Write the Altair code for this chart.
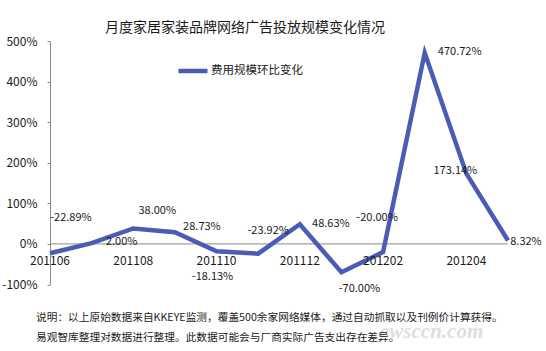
import altair as alt
import pandas as pd

months = ["201106", "201107", "201108", "201109", "201110", "201111",
          "201112", "201201", "201202", "201203", "201204", "201205"]
values = [-22.89, 2.00, 38.00, 28.73, -18.13, -23.92, 48.63, -70.00, -20.00,
          470.72, 173.14, 8.32]
tick_labels = ["201106", "201108", "201110", "201112", "201202", "201204"]
y_ticks = [-100, 0, 100, 200, 300, 400, 500]
series_name = "费用规模环比变化"
title_text = "月度家居家装品牌网络广告投放规模变化情况"
note_lines = [
    "说明：以上原始数据来自KKEYE监测，覆盖500余家网络媒体，通过自动抓取以及刊例价计算获得。",
    "易观智库整理对数据进行整理。此数据可能会与厂商实际广告支出存在差异。",
]
watermark_text = "ewsccn.com"
# label placement offsets (pixels) relative to each point
label_dx = [21, 30, 24, 27, -4, 10, 31, 18, -6, 35, -11, 18]
label_dy = [-35, -1, -17, -5, 26, -23, 0, 17, -34, -1, -3, 1]

FONT = "Noto Sans CJK SC"
LINE_COLOR = "#4a5cb4"
AXIS_COLOR = "#8a8a8a"
TEXT_COLOR = "#1a1a1a"

df = pd.DataFrame({
    "month": months,
    "value": values,
    "series": [series_name] * len(months),
    "idx": list(range(len(months))),
})
ticks_df = pd.DataFrame({"month": tick_labels})

x_enc = alt.X("month:O", scale=alt.Scale(domain=months, padding=0), axis=None)
y_scale = alt.Scale(domain=[-100, 500], nice=False, zero=False)
y_axis = alt.Axis(values=y_ticks, labelExpr="datum.value + '%'",
                  grid=False, domainColor=AXIS_COLOR, tickColor=AXIS_COLOR,
                  tickSize=3, labelFontSize=12, labelPadding=10,
                  labelFont=FONT, labelColor=TEXT_COLOR, title=None)

base = alt.Chart(df)

zero_rule = alt.Chart(pd.DataFrame({"value": [0]})).mark_rule(
    color=AXIS_COLOR, strokeWidth=1
).encode(
    x=alt.value(0), x2=alt.value(458),
    y=alt.Y("value:Q", scale=y_scale, axis=y_axis)
)

line = base.mark_line(strokeWidth=4.5, strokeJoin="miter").encode(
    x=x_enc,
    y=alt.Y("value:Q", scale=y_scale, axis=y_axis),
    color=alt.Color("series:N", scale=alt.Scale(range=[LINE_COLOR]),
                    legend=alt.Legend(orient="none", legendX=126, legendY=13,
                                      symbolType="stroke", symbolSize=841,
                                      symbolStrokeWidth=4.5, labelFontSize=11.5,
                                      labelFont=FONT, labelColor=TEXT_COLOR,
                                      labelOffset=1, title=None, padding=0)),
)

label_layers = []
for i in range(len(months)):
    label_layers.append(
        base.transform_filter(alt.datum.idx == i).transform_calculate(
            lbl="replace(format(datum.value, '.2f'), '\u2212', '-') + '%'"
        ).mark_text(font=FONT, fontSize=11, color=TEXT_COLOR, baseline="middle",
                    align="center", dx=label_dx[i], dy=label_dy[i]).encode(
            x=x_enc,
            y=alt.Y("value:Q", scale=y_scale, axis=y_axis),
            text="lbl:N",
        )
    )

xlabels = alt.Chart(ticks_df).transform_calculate(value="0").mark_text(
    font=FONT, fontSize=12, color=TEXT_COLOR, baseline="middle", dy=17.5
).encode(
    x=x_enc,
    y=alt.Y("value:Q", scale=y_scale, axis=y_axis),
    text="month:N",
)

title = alt.Chart(pd.DataFrame({"t": [title_text]})).mark_text(
    font=FONT, fontSize=14, color=TEXT_COLOR, baseline="middle", align="center"
).encode(x=alt.value(195), y=alt.value(-13), text="t:N")

note_layers = []
for j, txt in enumerate(note_lines):
    note_layers.append(
        alt.Chart(pd.DataFrame({"t": [txt]})).mark_text(
            font=FONT, fontSize=10.7, color=TEXT_COLOR, baseline="middle", align="left"
        ).encode(x=alt.value(-14), y=alt.value(276.5 + 20 * j), text="t:N")
    )

watermark = alt.Chart(pd.DataFrame({"t": [watermark_text]})).mark_text(
    font="Liberation Serif", fontSize=21, fontWeight="bold", fontStyle="italic",
    color="#dedede", baseline="middle", align="left"
).encode(x=alt.value(330), y=alt.value(291), text="t:N")

chart = alt.layer(
    watermark, zero_rule, line, *label_layers, xlabels, title, *note_layers
).properties(
    width=458, height=243.5,
    autosize=alt.AutoSizeParams(type="none"),
    padding={"left": 50, "top": 41, "right": 38, "bottom": 66},
    background="white",
).configure_view(stroke=None)

chart.save("out.html", embed_options={"renderer": "svg", "actions": False})
